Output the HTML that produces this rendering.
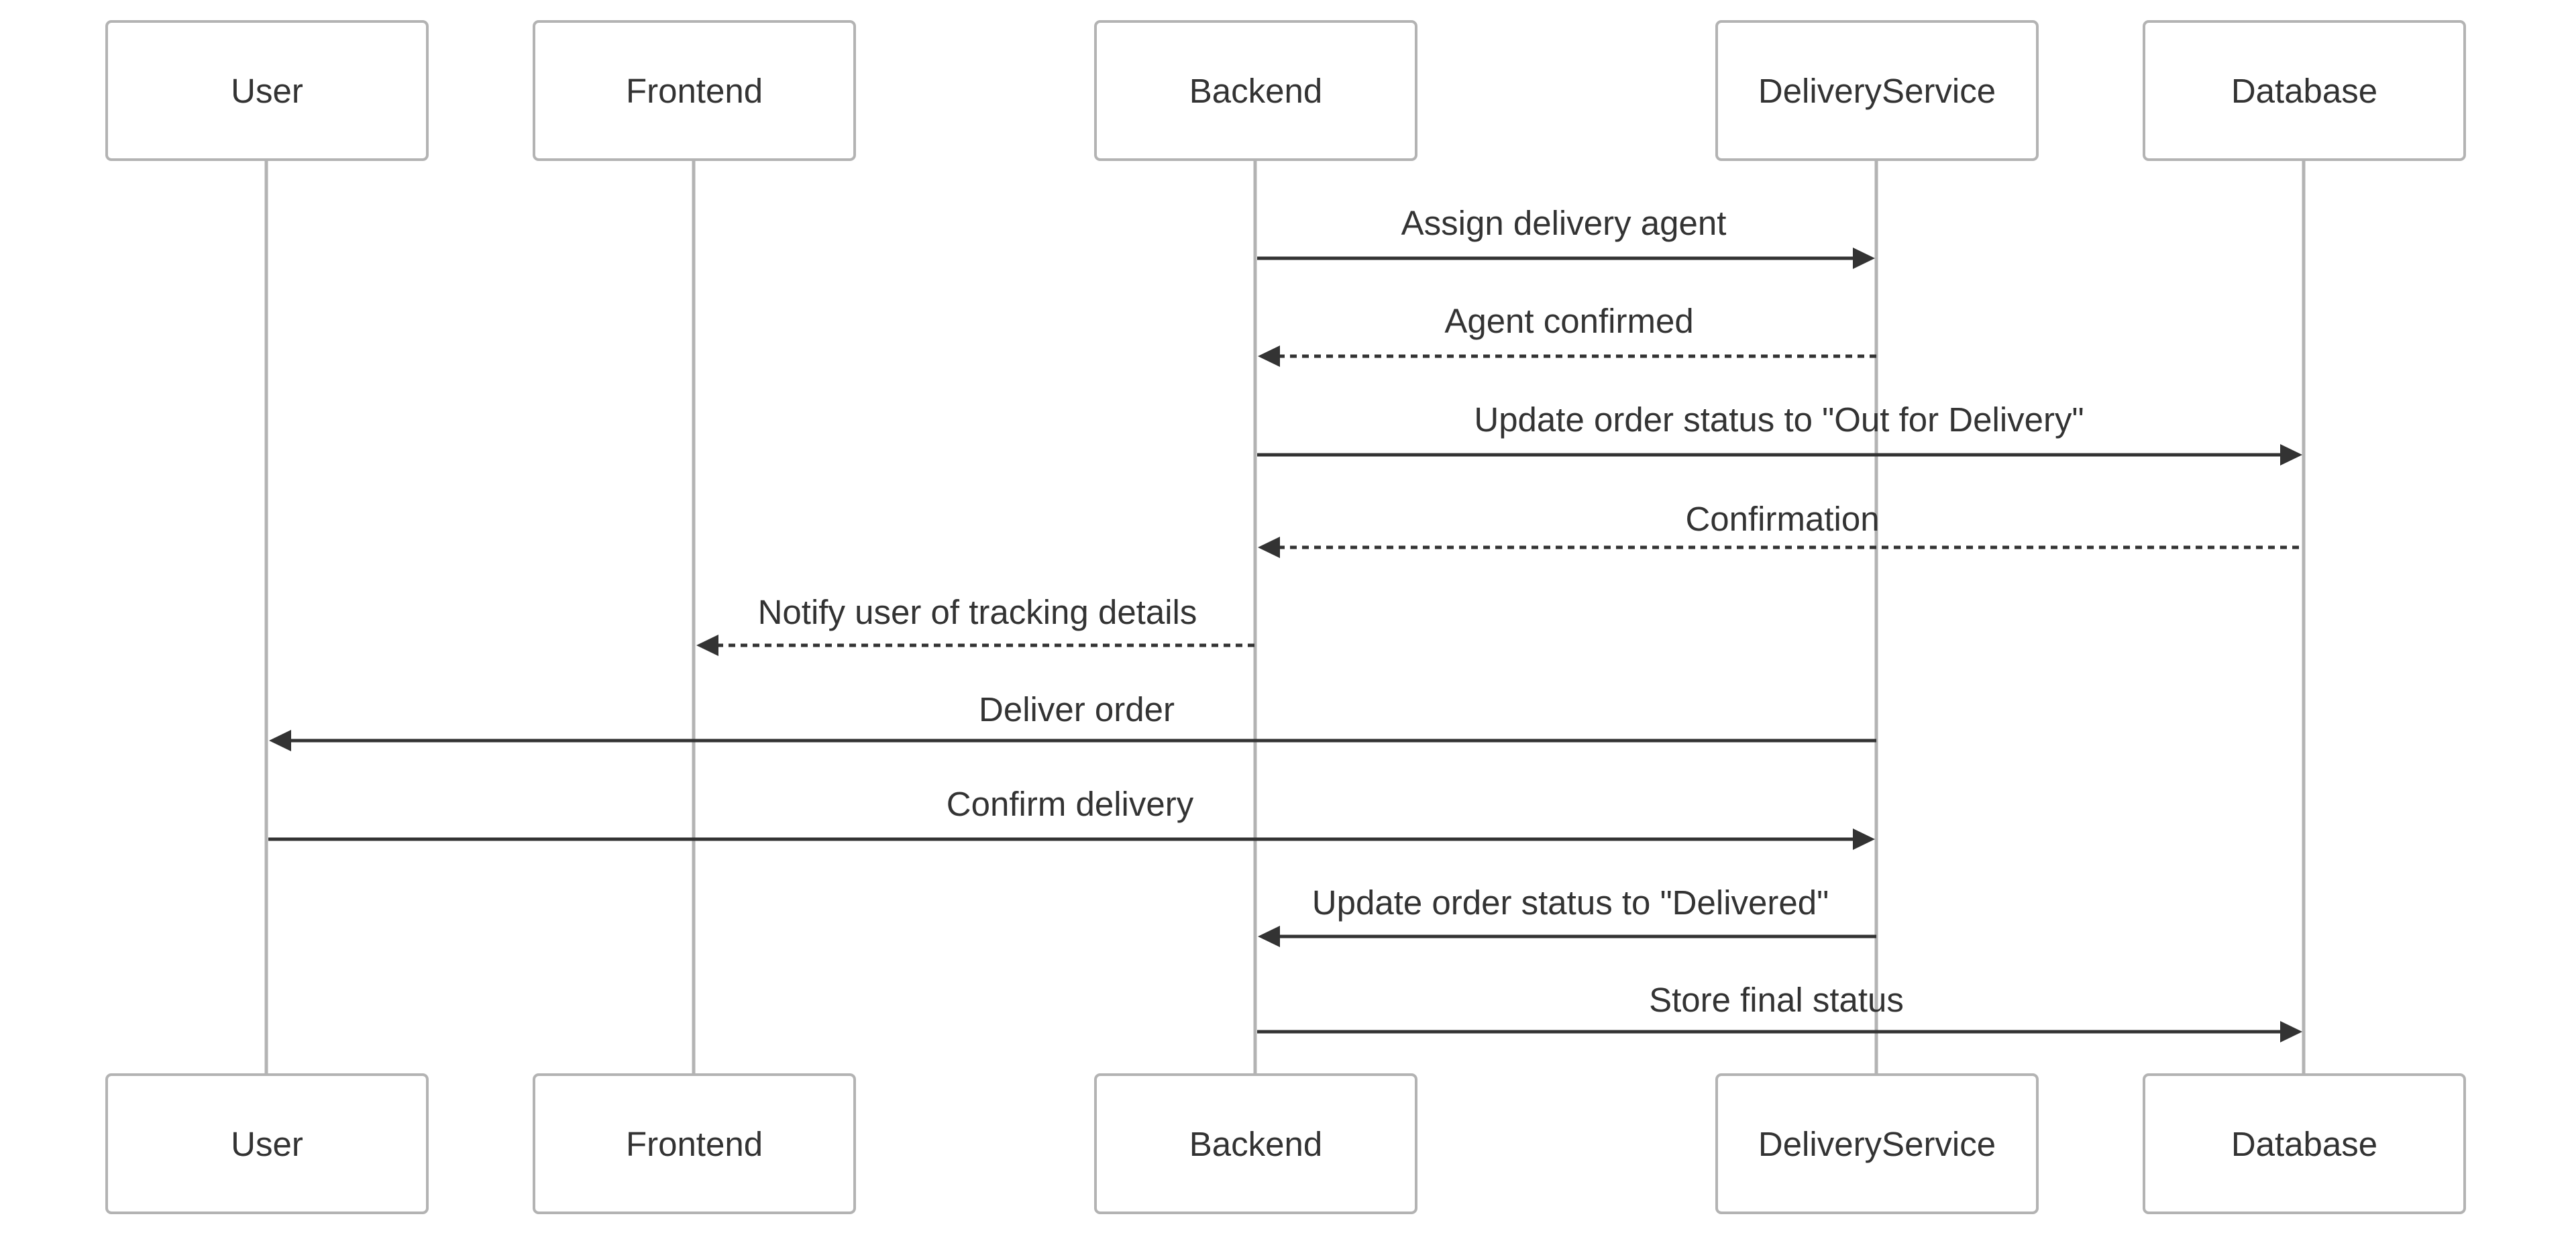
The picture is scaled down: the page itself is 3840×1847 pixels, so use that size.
<!DOCTYPE html>
<html><head><meta charset="utf-8"><style>
html,body{margin:0;padding:0;background:#fff;}
svg{display:block;}
text{font-family:"Liberation Sans",Arial,sans-serif;fill:#333;}
</style></head><body>
<svg width="3840" height="1847" viewBox="0 0 3840 1847" xmlns="http://www.w3.org/2000/svg">
<g stroke="#b3b3b3" stroke-width="5">
<line x1="397" y1="238" x2="397" y2="1602"/>
<line x1="1034" y1="238" x2="1034" y2="1602"/>
<line x1="1871" y1="238" x2="1871" y2="1602"/>
<line x1="2797" y1="238" x2="2797" y2="1602"/>
<line x1="3434" y1="238" x2="3434" y2="1602"/>
</g>
<g fill="#fff" stroke="#b3b3b3" stroke-width="4">
<rect x="159" y="32" width="478" height="206" rx="7"/>
<rect x="796" y="32" width="478" height="206" rx="7"/>
<rect x="1633" y="32" width="478" height="206" rx="7"/>
<rect x="2559" y="32" width="478" height="206" rx="7"/>
<rect x="3196" y="32" width="478" height="206" rx="7"/>
<rect x="159" y="1602" width="478" height="206" rx="7"/>
<rect x="796" y="1602" width="478" height="206" rx="7"/>
<rect x="1633" y="1602" width="478" height="206" rx="7"/>
<rect x="2559" y="1602" width="478" height="206" rx="7"/>
<rect x="3196" y="1602" width="478" height="206" rx="7"/>
</g>
<g font-size="51" text-anchor="middle">
<text x="398" y="153">User</text>
<text x="1035" y="153">Frontend</text>
<text x="1872" y="153">Backend</text>
<text x="2798" y="153">DeliveryService</text>
<text x="3435" y="153">Database</text>
<text x="398" y="1723">User</text>
<text x="1035" y="1723">Frontend</text>
<text x="1872" y="1723">Backend</text>
<text x="2798" y="1723">DeliveryService</text>
<text x="3435" y="1723">Database</text>
</g>
<g stroke="#333" stroke-width="5" fill="none">
<line x1="1874" y1="385" x2="2765" y2="385"/>
<line x1="1905" y1="531" x2="2797" y2="531" stroke-dasharray="10,8"/>
<line x1="1874" y1="678" x2="3402" y2="678"/>
<line x1="1905" y1="816" x2="3434" y2="816" stroke-dasharray="10,8"/>
<line x1="1068" y1="962" x2="1871" y2="962" stroke-dasharray="10,8"/>
<line x1="431" y1="1104" x2="2797" y2="1104"/>
<line x1="400" y1="1251" x2="2765" y2="1251"/>
<line x1="1905" y1="1396" x2="2797" y2="1396"/>
<line x1="1874" y1="1538" x2="3402" y2="1538"/>
</g>
<g fill="#333">
<polygon points="2795,385 2762,369 2762,401"/>
<polygon points="1875,531 1908,515 1908,547"/>
<polygon points="3432,678 3399,662 3399,694"/>
<polygon points="1875,816 1908,800 1908,832"/>
<polygon points="1038,962 1071,946 1071,978"/>
<polygon points="401,1104 434,1088 434,1120"/>
<polygon points="2795,1251 2762,1235 2762,1267"/>
<polygon points="1875,1396 1908,1380 1908,1412"/>
<polygon points="3432,1538 3399,1522 3399,1554"/>
</g>
<g font-size="51" text-anchor="middle">
<text x="2331" y="350">Assign delivery agent</text>
<text x="2339" y="496">Agent confirmed</text>
<text x="2652" y="643">Update order status to "Out for Delivery"</text>
<text x="2657" y="791">Confirmation</text>
<text x="1457" y="930">Notify user of tracking details</text>
<text x="1605" y="1075">Deliver order</text>
<text x="1595" y="1216">Confirm delivery</text>
<text x="2341" y="1363">Update order status to "Delivered"</text>
<text x="2648" y="1508">Store final status</text>
</g>
</svg>
</body></html>
